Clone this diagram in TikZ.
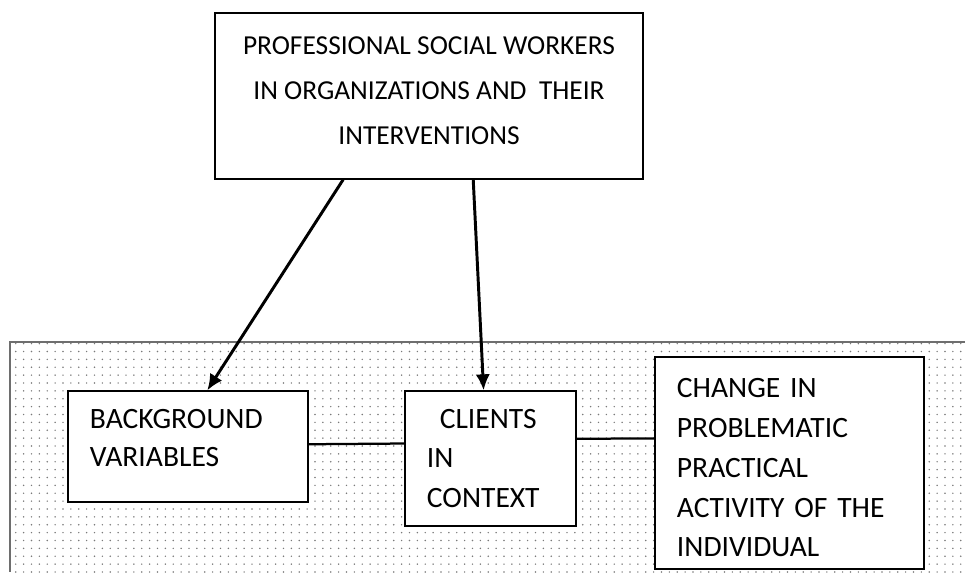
\documentclass[tikz,border=0pt]{standalone}
\usepackage{fontspec}
\setmainfont{Carlito}
\usepackage{xcolor}
\usepackage{tikz}
\usetikzlibrary{calc,arrows.meta,patterns.meta}
\definecolor{dotgray}{HTML}{7A7A7A}
\definecolor{edgegray}{HTML}{6E6E6E}

\begin{document}
\begin{tikzpicture}[x=0.025cm,y=-0.025cm,
  box/.style={rectangle,draw,fill=white,line width=0.9pt,
    inner xsep=0.55cm,inner ysep=0pt},
  arr/.style={->,line width=2.1pt,>={Latex[length=0.4cm,width=0.36cm]}},
  link/.style={line width=1.6pt}]

  \useasboundingbox (0,0) rectangle (965,572);

  % dotted field for the lower row
  \path[pattern={Dots[distance=5.6pt,radius=0.6pt]},pattern color=dotgray]
    (10,342) rectangle (965,572);
  \draw[edgegray,line width=1.4pt] (965,342) -- (10,342) -- (10,572);

  \node[box,minimum width=10.7cm,minimum height=4.15cm,align=center,
    text depth=0.25cm,font=\fontsize{19.5}{32}\selectfont] (workers) at (429,96)
    {PROFESSIONAL SOCIAL WORKERS\\IN ORGANIZATIONS AND\ \ THEIR\\INTERVENTIONS};

  \node[box,minimum height=2.775cm,text width=4.9cm,align=left,
    text depth=1.4cm,font=\fontsize{21}{27.3}\selectfont] (background) at (188,446.5)
    {BACKGROUND\\VARIABLES};
  \node[box,minimum height=3.375cm,text width=3.175cm,align=left,
    font=\fontsize{21}{28}\selectfont] (clients) at (490.5,458.5)
    {\hspace*{0.32cm}CLIENTS\\IN\\CONTEXT};
  \node[box,minimum height=5.3cm,text width=5.625cm,align=left,
    text height=0.72cm,font=\fontsize{21}{28.3}\selectfont] (change) at (789.5,463)
    {CHANGE IN\\PROBLEMATIC\\PRACTICAL\\ACTIVITY OF THE\\INDIVIDUAL};

  \draw[arr] ($(workers.south west)!0.30!(workers.south east)$)
    -- ($(background.north west)!0.58!(background.north east)$);
  \draw[arr] ($(workers.south west)!0.603!(workers.south east)$)
    -- ($(clients.north west)!0.46!(clients.north east)$);

  \draw[link] ($(background.north east)!0.48!(background.south east)$)
    -- ($(clients.north west)!0.39!(clients.south west)$);
  \draw[link] ($(clients.north east)!0.355!(clients.south east)$)
    -- ($(change.north west)!0.385!(change.south west)$);
\end{tikzpicture}
\end{document}
